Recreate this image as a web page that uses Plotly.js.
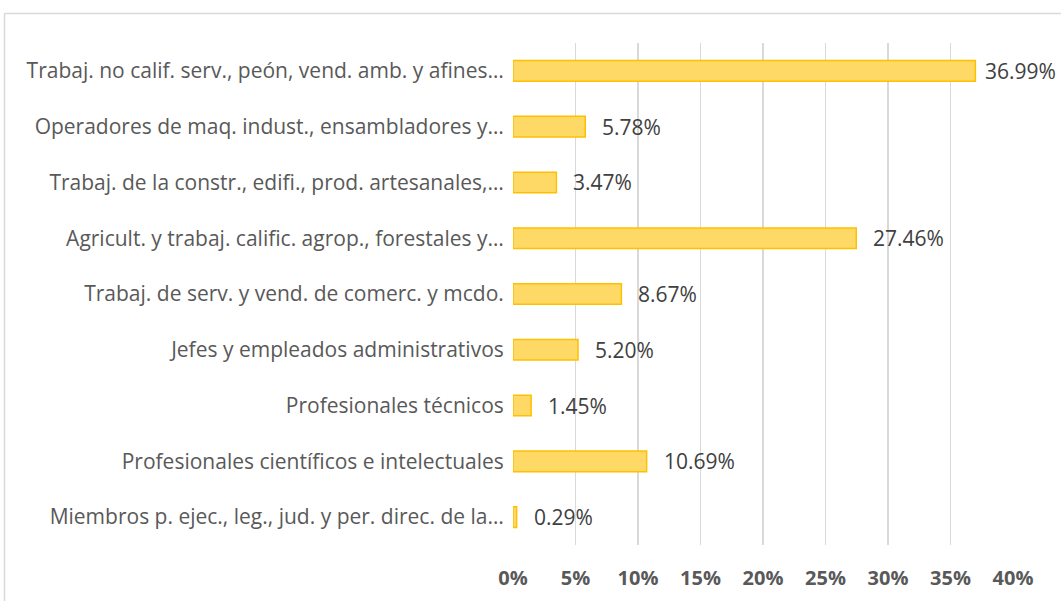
<!DOCTYPE html>
<html>
<head>
<meta charset="utf-8">
<script src="https://cdn.plot.ly/plotly-3.0.1.min.js"></script>
<style>
html,body{margin:0;padding:0;background:#fff;}
#chart{width:1061px;height:601px;}
</style>
</head>
<body>
<div id="chart"></div>
<script>
// Categories listed bottom to top
const categories = [
  "Miembros p. ejec., leg., jud. y per. direc. de la…",
  "Profesionales científicos e intelectuales",
  "Profesionales técnicos",
  "Jefes y empleados administrativos",
  "Trabaj. de serv. y vend. de comerc. y mcdo.",
  "Agricult. y trabaj. calific. agrop., forestales y…",
  "Trabaj. de la constr., edifi., prod. artesanales,…",
  "Operadores de maq. indust., ensambladores y…",
  "Trabaj. no calif. serv., peón, vend. amb. y afines…"
];
const values = [0.29, 10.69, 1.45, 5.20, 8.67, 27.46, 3.47, 5.78, 36.99];
const tickVals = [0, 5, 10, 15, 20, 25, 30, 35, 40];
const tickText = ["0%", "5%", "10%", "15%", "20%", "25%", "30%", "35%", "40%"];

const FONT = "Open Sans, Noto Sans, sans-serif";

const W = 1061, H = 601;
const M = { l: 513, r: 48, t: 43, b: 56 };
const X_MAX = 40;
const plotW = W - M.l - M.r;

const trace = {
  type: "bar",
  orientation: "h",
  x: values,
  y: categories,
  width: 0.37,
  marker: { color: "#FFD966", line: { color: "#FFC000", width: 1.5 } },
  hoverinfo: "skip"
};

// Labels sit outside the bar end; like Excel, a label that would run past
// the chart's right edge is pulled back so it stays inside.
const LABEL_GAP = 15, LABEL_W = 72, RIGHT_LIMIT = W - 6;
const annotations = values.map((v, i) => {
  const endPx = M.l + v / X_MAX * plotW;
  const shift = Math.min(LABEL_GAP, RIGHT_LIMIT - LABEL_W - endPx);
  return {
    x: v, y: categories[i], xref: "x", yref: "y",
    text: v.toFixed(2) + "%",
    showarrow: false, xanchor: "left", yanchor: "middle", xshift: shift,
    font: { family: FONT, size: 21, color: "#404040" }
  };
});

const layout = {
  width: W, height: H,
  margin: { l: M.l, r: M.r, t: M.t, b: M.b, pad: 0 },
  paper_bgcolor: "#ffffff", plot_bgcolor: "#ffffff",
  showlegend: false,
  xaxis: {
    range: [0, X_MAX], tickvals: tickVals, ticktext: tickText,
    showgrid: true, gridcolor: "#D9D9D9", gridwidth: 1.5,
    zeroline: false, showline: false,
    ticks: "outside", ticklen: 15, tickcolor: "rgba(0,0,0,0)",
    tickfont: { family: FONT, size: 20, color: "#595959", weight: "bold" },
    fixedrange: true
  },
  yaxis: {
    type: "category", categoryorder: "array", categoryarray: categories,
    showgrid: false, zeroline: false, showline: false,
    ticks: "outside", ticklen: 4, tickcolor: "rgba(0,0,0,0)",
    tickfont: { family: FONT, size: 21, color: "#595959" },
    automargin: false, fixedrange: true
  },
  annotations: annotations,
  shapes: [
    { type: "line", xref: "paper", yref: "paper",
      x0: (4.5 - M.l) / plotW, x1: 1.2, y0: (545 - 13.5) / 502, y1: (545 - 13.5) / 502,
      line: { color: "#D9D9D9", width: 1.5 } },
    { type: "line", xref: "paper", yref: "paper",
      x0: (4.5 - M.l) / plotW, x1: (4.5 - M.l) / plotW, y0: (545 - 13.5) / 502, y1: -0.2,
      line: { color: "#D9D9D9", width: 1.5 } }
  ]
};

Plotly.newPlot("chart", [trace], layout, { displayModeBar: false, staticPlot: true });
</script>
</body>
</html>
